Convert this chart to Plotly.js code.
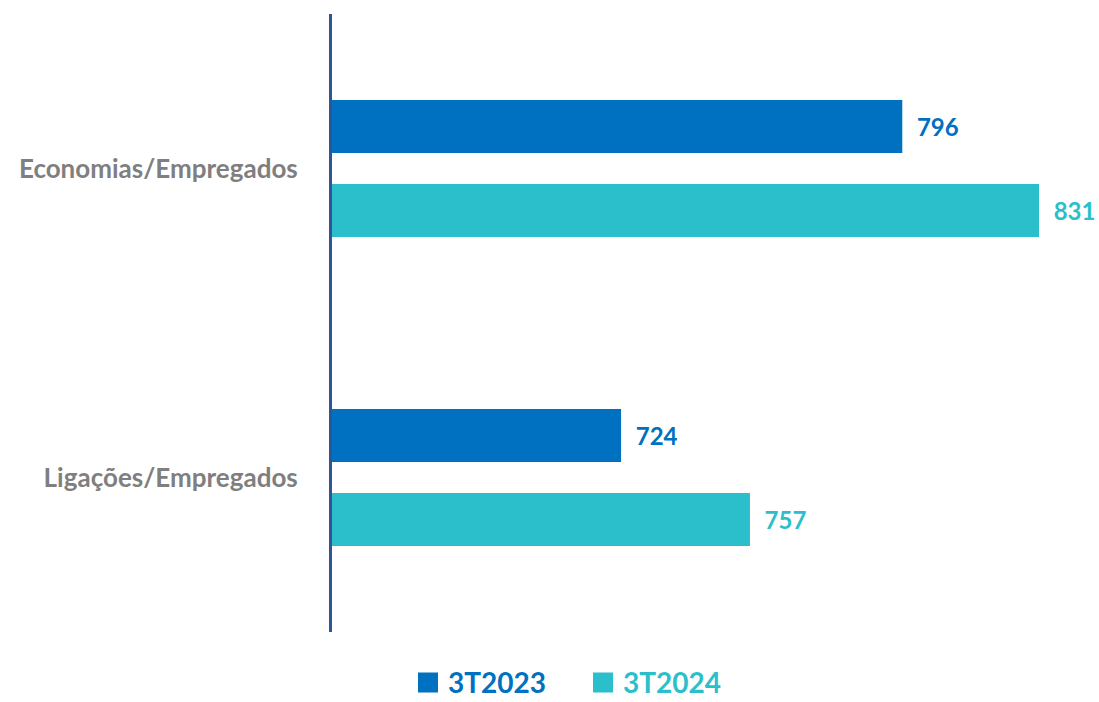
<!DOCTYPE html>
<html>
<head>
<meta charset="utf-8">
<script src="https://cdn.plot.ly/plotly-3.0.1.min.js"></script>
<style>html,body{margin:0;padding:0;background:#fff;}#chart{width:1099px;height:702px;}</style>
</head>
<body>
<div id="chart"></div>
<script>
const categories = ['Economias/Empregados', 'Ligações/Empregados'];
const seriesNames = ['3T2023', '3T2024'];
const values2023 = [796, 724];
const values2024 = [831, 757];
const colors = ['#0070C0', '#2BBFCC'];

const seriesValues = [values2023, values2024];
const traces = seriesNames.map((name, i) => ({
  type: 'bar',
  orientation: 'h',
  name: name,
  y: categories,
  x: seriesValues[i],
  marker: {color: colors[i]},
  text: seriesValues[i].map(v => '\u00a0\u00a0' + v),
  texttemplate: '%{text}',
  textposition: 'outside',
  textfont: {family: 'Lato, Open Sans, sans-serif', size: 24, color: colors[i], weight: 'bold'},
  cliponaxis: false,
  constraintext: 'none',
  showlegend: false,
  hoverinfo: 'skip'
}));
seriesNames.forEach((name, i) => {
  traces.push({
    type: 'scatter', mode: 'markers',
    x: [null], y: [null],
    name: '<span style="color:' + colors[i] + '">' + name + '</span>',
    marker: {symbol: 'square', size: 16, color: colors[i], line: {width: 4, color: colors[i]}},
    showlegend: true, hoverinfo: 'skip'
  });
});

const layout = {
  width: 1099, height: 702,
  margin: {l: 332, r: 60, t: 14, b: 70, autoexpand: false},
  paper_bgcolor: '#ffffff', plot_bgcolor: '#ffffff',
  barmode: 'group',
  bargap: 0.456,
  bargroupgap: 0.369,
  font: {family: 'Lato, Open Sans, sans-serif'},
  xaxis: {range: [650, 831], visible: false, showgrid: false, zeroline: false},
  yaxis: {
    type: 'category',
    categoryorder: 'array', categoryarray: categories,
    autorange: 'reversed',
    showline: true, linecolor: '#2F5597', linewidth: 3,
    ticks: '', showgrid: false, zeroline: false,
    ticklabelstandoff: 26,
    tickfont: {family: 'Lato, Open Sans, sans-serif', size: 26, color: '#7F7F7F', weight: 'bold'}
  },
  showlegend: true,
  legend: {
    orientation: 'h', x: 0.1075, xanchor: 'left', y: -0.082, yanchor: 'middle',
    font: {family: 'Lato, Open Sans, sans-serif', size: 28, weight: 'bold'},
    itemsizing: 'trace', itemwidth: 30, tracegroupgap: 0,
    entrywidth: 130, entrywidthmode: 'pixels'
  }
};

Plotly.newPlot('chart', traces, layout, {displayModeBar: false, staticPlot: true});
</script>
</body>
</html>
